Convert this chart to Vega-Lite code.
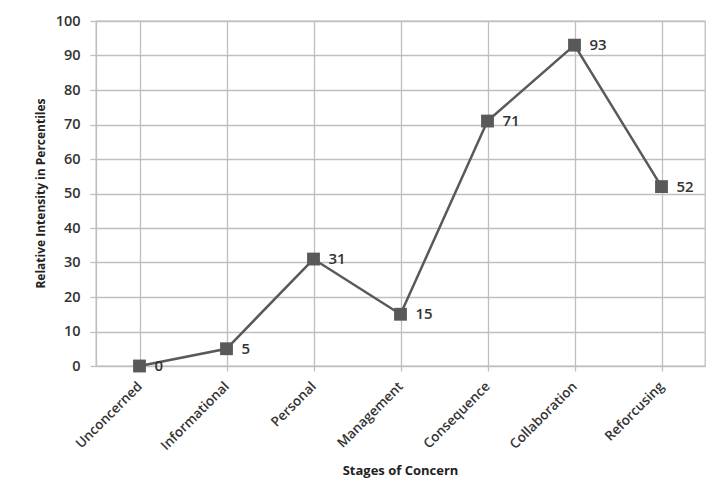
{
  "$schema": "https://vega.github.io/schema/vega-lite/v6.json",
  "width": 609,
  "height": 345,
  "autosize": {"type": "none"},
  "padding": {"left": 96, "top": 21, "right": 9, "bottom": 127},
  "background": "white",
  "config": {
    "font": "Open Sans",
    "view": {"stroke": "#bfbfbf", "strokeWidth": 1.3}
  },
  "data": {
    "values": [
      {"stage": "Unconcerned", "value": 0},
      {"stage": "Informational", "value": 5},
      {"stage": "Personal", "value": 31},
      {"stage": "Management", "value": 15},
      {"stage": "Consequence", "value": 71},
      {"stage": "Collaboration", "value": 93},
      {"stage": "Reforcusing", "value": 52}
    ]
  },
  "encoding": {
    "x": {
      "field": "stage",
      "type": "nominal",
      "sort": null,
      "scale": {"paddingInner": 0, "paddingOuter": 0},
      "axis": {
        "title": "Stages of Concern",
        "titleFont": "Open Sans",
        "titleFontSize": 13,
        "titleFontWeight": "bold",
        "titleColor": "#222222",
        "titleX": 304,
        "titleY": 104,
        "titleBaseline": "middle",
        "titleAnchor": "middle",
        "labelAngle": -45,
        "labelAlign": "right",
        "labelBaseline": "middle",
        "labelFont": "Open Sans",
        "labelFontSize": 13.5,
        "labelFontWeight": 600,
        "labelColor": "#333333",
        "labelPadding": 13,
        "bandPosition": 0,
        "grid": true,
        "gridColor": "#bfbfbf",
        "gridWidth": 1.3,
        "ticks": true,
        "tickSize": 5,
        "tickColor": "#bfbfbf",
        "tickWidth": 1.3,
        "domain": false,
        "labelBound": false
      }
    },
    "y": {
      "field": "value",
      "type": "quantitative",
      "scale": {"domain": [0, 100], "nice": false, "zero": true},
      "axis": {
        "title": "Relative Intensity in Percentiles",
        "titleFont": "Open Sans",
        "titleFontSize": 12,
        "titleFontWeight": "bold",
        "titleColor": "#222222",
        "titleX": -56,
        "titleY": 172,
        "titleAngle": -90,
        "titleAlign": "center",
        "titleBaseline": "middle",
        "values": [0, 10, 20, 30, 40, 50, 60, 70, 80, 90, 100],
        "labelFont": "Open Sans",
        "labelFontSize": 14.5,
        "labelFontWeight": 600,
        "labelColor": "#333333",
        "labelPadding": 10,
        "tickSize": 6,
        "tickColor": "#bfbfbf",
        "tickWidth": 1.3,
        "grid": true,
        "gridColor": "#bfbfbf",
        "gridWidth": 1.3,
        "domainColor": "#bfbfbf",
        "domainWidth": 1.3
      }
    }
  },
  "layer": [
    {
      "mark": {"type": "line", "color": "#595959", "strokeWidth": 2.5}
    },
    {
      "mark": {"type": "point", "shape": "square", "filled": true, "size": 165, "color": "#595959", "opacity": 1}
    },
    {
      "mark": {"type": "text", "align": "left", "baseline": "middle", "dx": 15, "fontSize": 15, "fontWeight": 600, "font": "Open Sans", "color": "#333333"},
      "encoding": {"text": {"field": "value", "type": "quantitative"}}
    }
  ]
}
